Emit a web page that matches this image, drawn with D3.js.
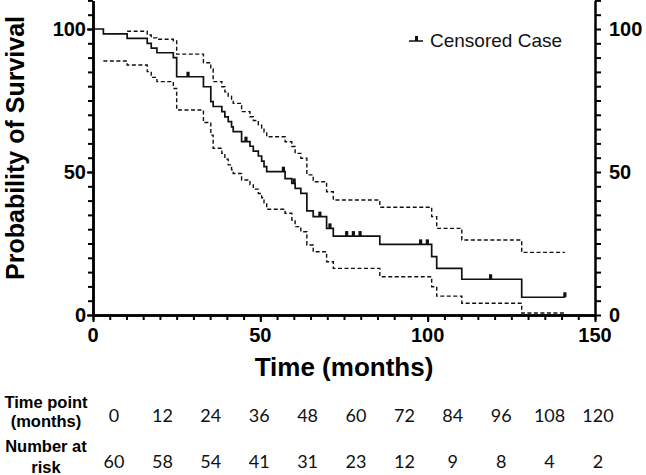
<!DOCTYPE html>
<html>
<head>
<meta charset="utf-8">
<script src="https://cdn.jsdelivr.net/npm/d3@7"></script>
<style>
  html, body { margin: 0; padding: 0; background: #fff; }
  svg { display: block; }
</style>
</head>
<body>
<svg id="chart" width="646" height="475"></svg>
<script>
// ---- data ----
const stepTimes   = [0, 3.1, 10.2, 16.2, 17.4, 19.1, 24.0, 25.0, 33.0, 35.2, 35.9, 38.5, 39.4, 40.4, 41.4, 41.9, 44.4, 46.9, 47.9, 49.4, 50.4, 51.1, 51.9, 57.4, 59.4, 60.4, 62.1, 63.9, 65.8, 69.8, 71.8, 85.7, 101.2, 102.7, 110.2, 128.1, 141.0];
const survival    = [100, 98.3, 96.7, 95.0, 93.3, 91.7, 90.0, 83.3, 79.8, 74.6, 72.9, 71.1, 69.3, 67.6, 65.8, 64.1, 60.6, 59.0, 57.3, 55.6, 53.8, 51.9, 50.1, 47.7, 46.0, 44.3, 42.5, 36.4, 34.4, 30.3, 27.6, 24.7, 20.4, 16.3, 12.5, 6.2, 6.2];
const upperCI     = [null, null, 99.2, 97.9, 96.9, 96.4, 95.8, 91.2, 88.2, 86.0, 81.6, 79.8, 78.0, 76.5, 75.2, 74.0, 71.1, 69.3, 68.0, 66.4, 65.3, 64.0, 62.3, 60.6, 58.9, 56.5, 54.8, 49.0, 46.6, 43.1, 40.2, 37.7, 34.4, 30.3, 26.2, 21.9, 21.9];
const lowerCI     = [null, 88.8, 87.4, 85.1, 83.1, 81.6, 79.2, 71.7, 67.3, 62.9, 58.3, 56.5, 54.5, 52.5, 50.8, 49.5, 47.2, 45.5, 44.0, 42.5, 41.0, 39.2, 37.0, 35.6, 33.2, 30.9, 29.1, 24.5, 22.1, 18.6, 16.3, 13.4, 9.9, 6.6, 4.1, 0.7, 0.7];
const censorTimes  = [28.4, 45.7, 56.9, 60.1, 67.8, 70.8, 75.8, 77.8, 79.8, 97.9, 99.9, 118.8, 141.0];
const censorValues = [83.3, 60.6, 50.1, 46.0, 34.4, 30.3, 27.6, 27.6, 27.6, 24.7, 24.7, 12.5, 6.2];
const xMajorTicks = [0, 50, 100, 150];
const yMajorTicks = [0, 50, 100];
const timePoints  = [0, 12, 24, 36, 48, 60, 72, 84, 96, 108, 120];
const atRisk      = [60, 58, 54, 41, 31, 23, 12, 9, 8, 4, 2];

// ---- layout ----
const svg = d3.select("#chart");
const x = d3.scaleLinear().domain([0, 150]).range([93, 595]);
const y = d3.scaleLinear().domain([0, 110]).range([315, 0.4]);
const boldFont = "'Liberation Sans', Arial, Helvetica, sans-serif";

// ---- curves ----
function series(vals) {
  return stepTimes.map((t, i) => ({t: t, v: vals[i]}));
}
const line = d3.line()
  .defined(d => d.v !== null)
  .x(d => x(d.t)).y(d => y(d.v))
  .curve(d3.curveStepAfter);

svg.append("path").datum(series(upperCI)).attr("d", line)
  .attr("fill", "none").attr("stroke", "#111").attr("stroke-width", 1.4)
  .attr("stroke-dasharray", "4,2.5");
svg.append("path").datum(series(lowerCI)).attr("d", line)
  .attr("fill", "none").attr("stroke", "#111").attr("stroke-width", 1.4)
  .attr("stroke-dasharray", "4,2.5");
svg.append("path").datum(series(survival)).attr("d", line)
  .attr("fill", "none").attr("stroke", "#111").attr("stroke-width", 1.7);

// censor marks
svg.append("g").selectAll("line").data(censorTimes).join("line")
  .attr("x1", (d) => x(d)).attr("x2", (d) => x(d))
  .attr("y1", (d, i) => y(censorValues[i]))
  .attr("y2", (d, i) => y(censorValues[i]) - 5)
  .attr("stroke", "#111").attr("stroke-width", 3.2);

// ---- axes ----
function styleAxis(g) {
  g.select(".domain").attr("stroke", "#000").attr("stroke-width", 2.5);
  g.selectAll(".tick line").attr("stroke", "#000").attr("stroke-width", 2);
  g.selectAll(".tick text").remove();
}
const yMinor = d3.range(0, 111, 5);
const xMinor = d3.range(0, 151, 5);

svg.append("g").attr("transform", "translate(93,0)")
  .call(d3.axisLeft(y).tickValues(yMinor).tickSize(5).tickSizeOuter(0).tickFormat(""))
  .call(styleAxis);
svg.append("g").attr("transform", "translate(93,0)")
  .call(d3.axisLeft(y).tickValues(yMajorTicks).tickSize(6).tickSizeOuter(0).tickFormat(""))
  .call(styleAxis);
svg.append("g").attr("transform", "translate(595,0)")
  .call(d3.axisRight(y).tickValues(yMinor).tickSize(6).tickSizeOuter(0).tickFormat(""))
  .call(styleAxis);
svg.append("g").attr("transform", "translate(0,315)")
  .call(d3.axisBottom(x).tickValues(xMinor).tickSize(5).tickSizeOuter(0).tickFormat(""))
  .call(styleAxis);
svg.append("g").attr("transform", "translate(0,315)")
  .call(d3.axisBottom(x).tickValues(xMajorTicks).tickSize(7).tickSizeOuter(0).tickFormat(""))
  .call(styleAxis);

// tick labels
svg.append("g").selectAll("text").data(yMajorTicks).join("text")
  .attr("x", 86).attr("y", d => y(d)).attr("dy", "0.35em")
  .attr("text-anchor", "end")
  .attr("font-family", boldFont).attr("font-weight", "bold").attr("font-size", 20)
  .text(d => d);
svg.append("g").selectAll("text").data(yMajorTicks).join("text")
  .attr("x", 609).attr("y", d => y(d)).attr("dy", "0.35em")
  .attr("text-anchor", "start")
  .attr("font-family", boldFont).attr("font-weight", "bold").attr("font-size", 20)
  .text(d => d);
svg.append("g").selectAll("text").data(xMajorTicks).join("text")
  .attr("x", d => x(d)).attr("y", 342)
  .attr("text-anchor", "middle")
  .attr("font-family", boldFont).attr("font-weight", "bold").attr("font-size", 20)
  .text(d => d);

// axis titles
svg.append("text")
  .attr("transform", "translate(24,148) rotate(-90)")
  .attr("text-anchor", "middle")
  .attr("font-family", boldFont).attr("font-weight", "bold").attr("font-size", 25)
  .text("Probability of Survival");
svg.append("text")
  .attr("x", 344).attr("y", 376)
  .attr("text-anchor", "middle")
  .attr("font-family", boldFont).attr("font-weight", "bold").attr("font-size", 26)
  .text("Time (months)");

// legend
const lg = svg.append("g");
lg.append("line").attr("x1", 409).attr("x2", 423).attr("y1", 41).attr("y2", 41)
  .attr("stroke", "#111").attr("stroke-width", 1.5);
lg.append("line").attr("x1", 416.5).attr("x2", 416.5).attr("y1", 41).attr("y2", 36)
  .attr("stroke", "#111").attr("stroke-width", 3);
lg.append("text").attr("x", 430).attr("y", 47)
  .attr("font-family", boldFont).attr("font-size", 19).attr("fill", "#111")
  .text("Censored Case");

// ---- number-at-risk table ----
const tx = d3.scaleLinear().domain([0, 120]).range([114, 598]);
const tableFont = "Lato, 'Open Sans', sans-serif";
const labelFont = "'Liberation Sans', Arial, sans-serif";

const lbl = [["Time point", 408], ["(months)", 427], ["Number at", 452], ["risk", 473]];
svg.append("g").selectAll("text").data(lbl).join("text")
  .attr("x", 46).attr("y", d => d[1])
  .attr("text-anchor", "middle")
  .attr("font-family", labelFont).attr("font-weight", "bold").attr("font-size", 16.5)
  .text(d => d[0]);

svg.append("g").selectAll("text").data(timePoints).join("text")
  .attr("x", d => tx(d)).attr("y", 421.5)
  .attr("text-anchor", "middle")
  .attr("font-family", tableFont).attr("font-size", 18).attr("fill", "#111")
  .text(d => d);
svg.append("g").selectAll("text").data(atRisk).join("text")
  .attr("x", (d, i) => tx(timePoints[i])).attr("y", 468)
  .attr("text-anchor", "middle")
  .attr("font-family", tableFont).attr("font-size", 18).attr("fill", "#111")
  .text(d => d);
</script>
</body>
</html>
